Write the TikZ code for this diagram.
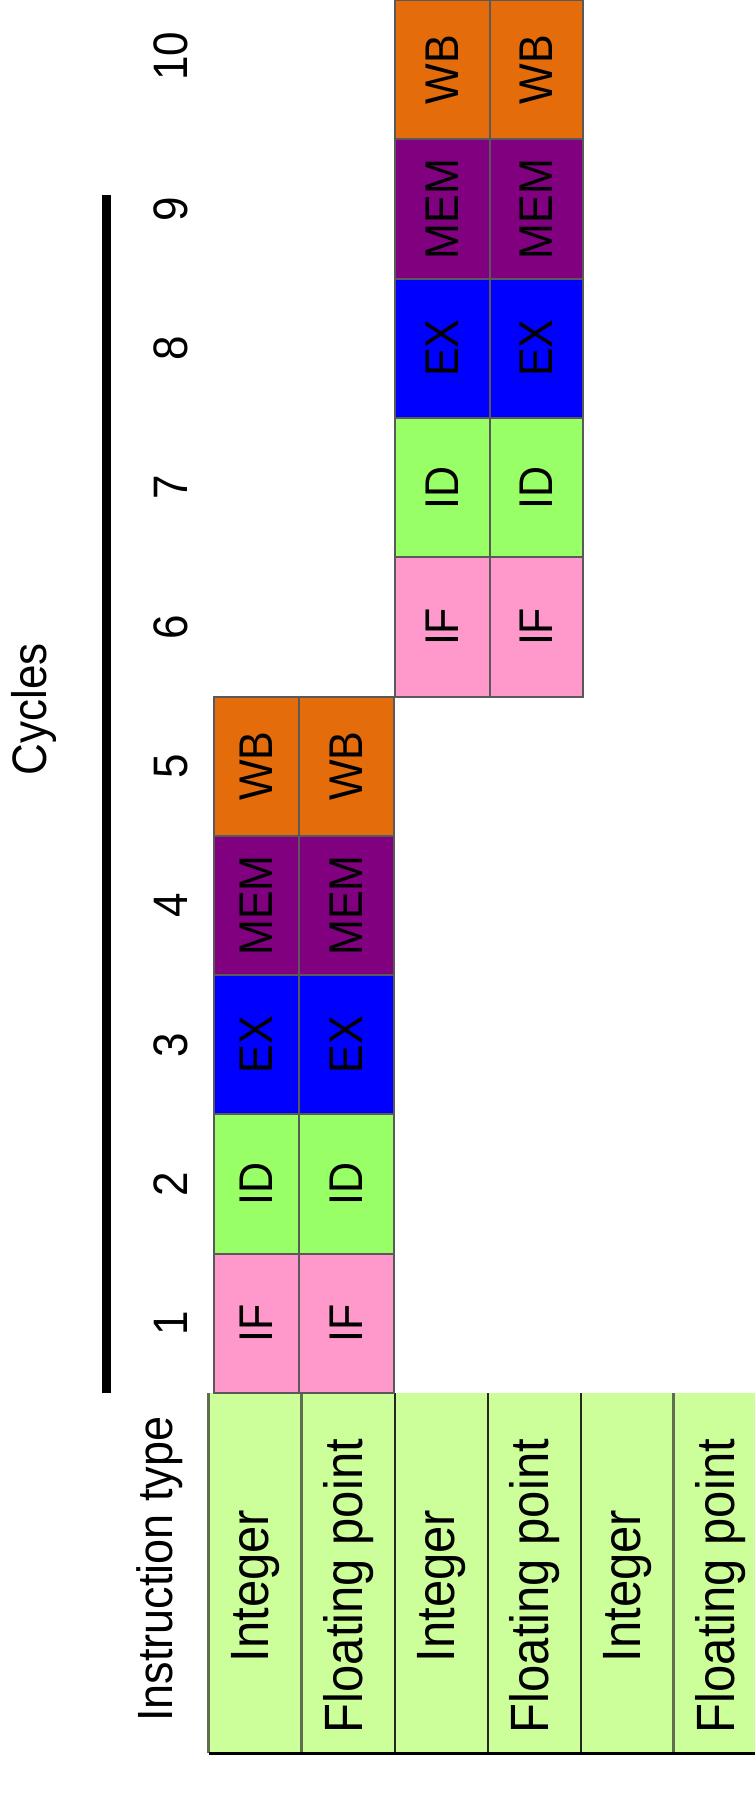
\documentclass[tikz,border=0pt]{standalone}
\usepackage{graphicx}
\usepackage{fontspec}
\setmainfont{Liberation Sans}
\definecolor{cIF}{HTML}{FF99CC}
\definecolor{cID}{HTML}{99FF66}
\definecolor{cEX}{HTML}{0000FF}
\definecolor{cMEM}{HTML}{800080}
\definecolor{cWB}{HTML}{E46C0A}
\definecolor{tbl}{HTML}{CCFF99}
\definecolor{sepgray}{HTML}{5E6E4E}
\newcommand{\tall}[1]{\scalebox{1}[1.1]{#1}}
\begin{document}
\begin{tikzpicture}[x=0.5pt,y=-0.5pt,
  lbl/.style={rotate=90, font=\fontsize{22}{26}\selectfont, inner sep=0pt},
  stagebox/.style={draw=black!65, line width=1pt, rotate=90, minimum width=69.65pt,
     minimum height=#1, inner sep=0pt, font=\fontsize{21.5}{24}\selectfont},
  tblcol/.style={draw=none, fill=tbl, rotate=90, minimum width=180pt,
     minimum height=46.5pt, inner sep=0pt},
  tbltext/.style={rotate=90, inner sep=0pt, font=\fontsize{24.5}{28}\selectfont},
  sepg/.style={line width=1.3pt, sepgray},
  sepk/.style={line width=1.1pt, black!85},
  tblbottom/.style={line width=1.8pt, black},
  cycbar/.style={line width=4.5pt, black}
]
\clip (0,0) rectangle (755,1795);
\fill[white] (0,0) rectangle (755,1795);
% table
\foreach \t [count=\i] in {Integer,Floating point,Integer,Floating point,Integer,Floating point} {
  \node[tblcol] (t\i) at ({209+(\i-0.5)*93},1573) {};
  \node[tbltext] (tt\i) at ({209+(\i-0.5)*93},1586) {\tall{\t}};
}
\foreach \i/\st in {1/sepg,2/sepg,3/sepk,4/sepk,5/sepk,6/sepg} {
  \draw[\st] (t\i.north west) -- (t\i.north east);
}
\draw[tblbottom] (t1.north west) -- (t6.south west);
% labels
\node[lbl] (cyc) at (34,709) {\tall{Cycles}};
\node[lbl, font=\fontsize{22.5}{26}\selectfont] (itype) at (160,1569) {\tall{Instruction type}};
\coordinate (bartop) at (106,195);
\coordinate (barbot) at (106,1393);
\draw[cycbar] (bartop) -- (barbot);
\foreach \k in {1,...,9} {
  \node[lbl] (n\k) at (171,{1393-(\k-0.5)*139.3}) {\tall{\k}};
}
\node[lbl] (n10) at (171,56) {\tall{10}};
% group 1 (cycles 1-5)
\foreach \s [count=\k] in {IF,ID,EX,MEM,WB} {
  \node[stagebox=42.5pt, fill=c\s] (a\k) at (256.5,{1393-(\k-0.5)*139.3}) {\tall{\s}};
  \node[stagebox=47.5pt, fill=c\s] (b\k) at (346.5,{1393-(\k-0.5)*139.3}) {\tall{\s}};
}
% group 2 (cycles 6-10)
\foreach \s [count=\k] in {IF,ID,EX,MEM,WB} {
  \node[stagebox=47.5pt, fill=c\s] (c\k) at (442.5,{1393-(\k+4.5)*139.3}) {\tall{\s}};
  \node[stagebox=46.5pt, fill=c\s] (d\k) at (536.5,{1393-(\k+4.5)*139.3}) {\tall{\s}};
}
\end{tikzpicture}
\end{document}
